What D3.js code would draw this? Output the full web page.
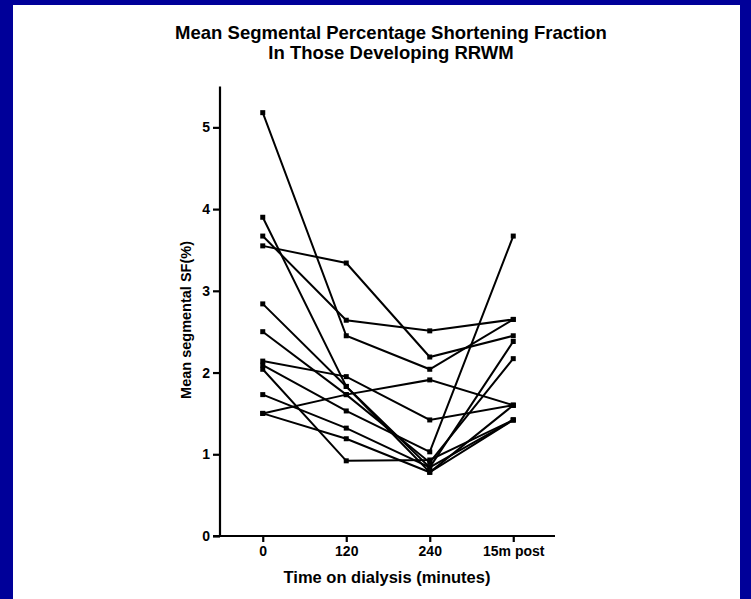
<!DOCTYPE html>
<html>
<head>
<meta charset="utf-8">
<script src="https://cdn.jsdelivr.net/npm/d3@7"></script>
<style>
  html, body { margin: 0; padding: 0; background: #fff; }
  svg { display: block; }
  text { font-family: "Liberation Sans", Arial, Helvetica, sans-serif; font-weight: bold; fill: #000; }
</style>
</head>
<body>
<script>
// Time points on dialysis
const timepoints = ["0", "120", "240", "15m post"];

// Mean segmental SF(%) for each patient segment at each time point
const segment01 = [5.18, 2.45, 2.04, 2.65];
const segment02 = [3.67, 2.64, 2.51, 2.65];
const segment03 = [3.55, 3.34, 2.19, 2.45];
const segment04 = [3.90, 1.83, 0.78, 1.42];
const segment05 = [2.84, 1.83, 0.84, 2.38];
const segment06 = [2.50, 1.73, 0.90, 2.17];
const segment07 = [2.14, 1.95, 1.42, 1.60];
const segment08 = [2.09, 1.53, 1.03, 3.67];
const segment09 = [2.04, 0.92, 0.93, 1.42];
const segment10 = [1.73, 1.32, 0.84, 1.42];
const segment11 = [1.50, 1.73, 1.91, 1.60];
const segment12 = [1.50, 1.19, 0.78, 1.60];

const series = [segment01, segment02, segment03, segment04, segment05, segment06,
                segment07, segment08, segment09, segment10, segment11, segment12];

const yTicks = [0, 1, 2, 3, 4, 5];

const W = 751, H = 599;
const svg = d3.select("body").append("svg").attr("width", W).attr("height", H);

// Blue frame around the slide
svg.append("rect").attr("x", 0).attr("y", 0).attr("width", W).attr("height", H).attr("fill", "#000099");
svg.append("rect").attr("x", 13).attr("y", 5).attr("width", 727).attr("height", H - 5).attr("fill", "#ffffff");

const x = d3.scalePoint().domain(timepoints).range([221, 555]).padding(0.5);
const y = d3.scaleLinear().domain([0, 5.5]).range([536, 86.5]);

// Title
svg.append("text").attr("x", 391).attr("y", 39).attr("text-anchor", "middle")
  .style("font-size", "18.5px").text("Mean Segmental Percentage Shortening Fraction");
svg.append("text").attr("x", 391).attr("y", 58.5).attr("text-anchor", "middle")
  .style("font-size", "18.5px").text("In Those Developing RRWM");

// Axes
const tickFont = "14px";
const yAxis = d3.axisLeft(y).tickValues(yTicks).tickFormat(d3.format("d")).tickSize(7).tickPadding(3);
const gy = svg.append("g").attr("transform", "translate(220,0)").call(yAxis);
gy.select(".domain").attr("stroke-width", 2.2).attr("d", `M0,${y(5.5)}V${y(0)}`);
gy.selectAll(".tick line").attr("stroke-width", 2.2);
gy.selectAll(".tick text").style("font-size", tickFont).style("font-family", "'Liberation Sans', Arial, sans-serif");

const xAxis = d3.axisBottom(x).tickSize(6).tickPadding(4);
const gx = svg.append("g").attr("transform", `translate(0,${y(0)})`).call(xAxis);
gx.select(".domain").attr("stroke-width", 2.2).attr("d", "M213,0H555");
gx.selectAll(".tick line").attr("stroke-width", 2.2);
gx.selectAll(".tick text").style("font-size", tickFont).style("font-family", "'Liberation Sans', Arial, sans-serif");

// Axis titles
svg.append("text").attr("x", 387).attr("y", 583).attr("text-anchor", "middle")
  .style("font-size", "16.5px").text("Time on dialysis (minutes)");
svg.append("text").attr("transform", "translate(191,320) rotate(-90)").attr("text-anchor", "middle")
  .style("font-size", "14.5px").text("Mean segmental SF(%)");

// Lines and square markers
const line = d3.line().x((d, i) => x(timepoints[i])).y(d => y(d));
const plot = svg.append("g");
series.forEach(s => {
  plot.append("path").datum(s).attr("d", line).attr("fill", "none")
    .attr("stroke", "#000").attr("stroke-width", 2);
});
series.forEach(s => {
  plot.selectAll(null).data(s).enter().append("rect")
    .attr("x", (d, i) => x(timepoints[i]) - 2.5)
    .attr("y", d => y(d) - 2.5)
    .attr("width", 5).attr("height", 5).attr("fill", "#000");
});
</script>
</body>
</html>
